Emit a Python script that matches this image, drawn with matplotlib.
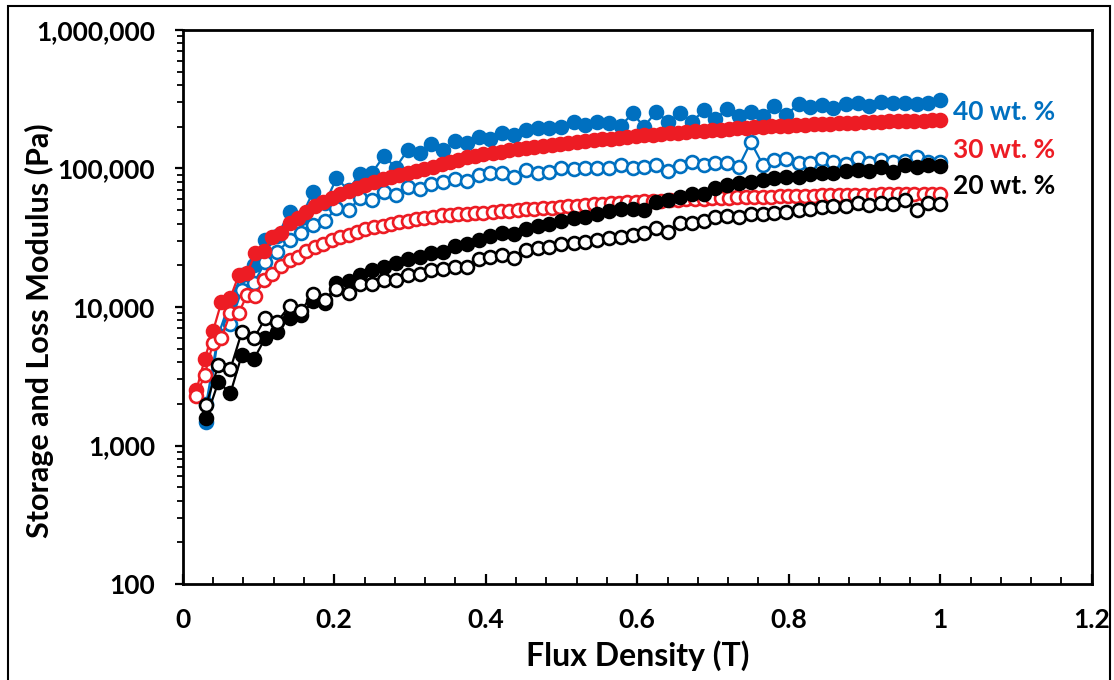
import matplotlib
matplotlib.use("Agg")
import matplotlib.pyplot as plt
from matplotlib.patches import Rectangle
from matplotlib.ticker import FixedLocator, FuncFormatter, LogLocator, NullFormatter

# flux density grid for the 20 and 40 wt.% samples (T)
field_a = [0.031, 0.047, 0.063, 0.078, 0.094, 0.109, 0.125, 0.141, 0.156, 0.172,
           0.188, 0.203, 0.219, 0.234, 0.25, 0.266, 0.281, 0.297, 0.313, 0.328,
           0.344, 0.359, 0.375, 0.391, 0.406, 0.422, 0.438, 0.453, 0.469, 0.484,
           0.5, 0.516, 0.531, 0.547, 0.563, 0.578, 0.594, 0.609, 0.625, 0.641,
           0.656, 0.672, 0.688, 0.703, 0.719, 0.734, 0.75, 0.766, 0.781, 0.797,
           0.813, 0.828, 0.844, 0.859, 0.875, 0.891, 0.906, 0.922, 0.938, 0.953,
           0.969, 0.984, 1.0]

# flux density grid for the 30 wt.% sample (T)
field_b = [0.018, 0.029, 0.040, 0.051, 0.063, 0.074, 0.085, 0.096, 0.107, 0.118,
           0.130, 0.141, 0.152, 0.163, 0.174, 0.185, 0.197, 0.208, 0.219, 0.230,
           0.241, 0.252, 0.264, 0.275, 0.286, 0.297, 0.308, 0.319, 0.330, 0.342,
           0.353, 0.364, 0.375, 0.386, 0.397, 0.409, 0.420, 0.431, 0.442, 0.453,
           0.464, 0.476, 0.487, 0.498, 0.509, 0.520, 0.531, 0.543, 0.554, 0.565,
           0.576, 0.587, 0.598, 0.609, 0.621, 0.632, 0.643, 0.654, 0.665, 0.676,
           0.688, 0.699, 0.710, 0.721, 0.732, 0.743, 0.754, 0.766, 0.777, 0.788,
           0.799, 0.810, 0.821, 0.833, 0.844, 0.855, 0.866, 0.877, 0.888, 0.899,
           0.911, 0.922, 0.933, 0.944, 0.955, 0.966, 0.978, 0.989, 1.000]

# 40 wt.% storage (filled) and loss (open) modulus, Pa
g1_40 = [1480, 6280, 11200, 17000, 20100, 30500, 32500, 48500, 43900, 67700,
         56300, 84700, 69900, 91900, 93000, 124000, 100800, 135900, 128600, 150200,
         135900, 156800, 152700, 168800, 162000, 179500, 174500, 188000, 195000, 194400,
         200300, 216600, 206000, 214800, 212000, 202600, 249400, 200300, 256900, 216600,
         250300, 216600, 262200, 227600, 268800, 239300, 255700, 237300, 282500, 243300,
         292100, 275600, 284900, 273300, 289700, 294500, 280200, 303500, 295000, 295000,
         292000, 294500, 312200]
g2_40 = [2000, 6300, 7600, 13300, 14900, 21100, 25000, 30500, 34200, 39000,
         41800, 51900, 50100, 60900, 59200, 67900, 64400, 72900, 71300, 77400,
         79400, 84000, 81700, 89700, 92300, 92300, 86500, 97500, 92800, 94900,
         100300, 99100, 100300, 100300, 100300, 105900, 100300, 103000, 105900, 95900,
         104100, 111300, 105900, 108900, 108900, 103000, 155000, 105900, 115100, 117000,
         109500, 110300, 117000, 111300, 107700, 118500, 110300, 115100, 111300, 112600,
         120000, 111300, 111700]

# 30 wt.%
g1_30 = [2500, 4200, 6690, 10800, 11700, 17000, 17600, 24500, 25400, 32000,
         34200, 40400, 43900, 48500, 53600, 57300, 61200, 65500, 68800, 72300,
         76000, 79900, 83300, 86800, 89700, 92800, 95900, 99100, 102500, 107700,
         111300, 115100, 120000, 124000, 127200, 129800, 132400, 135000, 137700, 140500,
         142900, 145300, 147700, 150200, 152700, 155300, 157900, 160000, 162200, 164300,
         166500, 168800, 171000, 173000, 175000, 177100, 179200, 181300, 183400, 185200,
         187100, 189000, 190900, 192800, 194400, 196000, 197600, 199300, 201000, 202600,
         204000, 205300, 206700, 208100, 209500, 210900, 212300, 213400, 214500, 215600,
         216600, 217700, 218800, 219500, 220200, 221000, 221700, 222400, 223200]
g2_30 = [2280, 3230, 5500, 5980, 9050, 9100, 12200, 12100, 15700, 17300,
         19800, 21900, 23000, 25400, 27100, 28500, 30400, 31800, 33100, 34800,
         36300, 37500, 38400, 39700, 40800, 41800, 43200, 43900, 44800, 45800,
         46100, 46700, 47200, 47700, 48100, 48500, 49100, 49600, 50100, 50600,
         51000, 51600, 52100, 52700, 53300, 53900, 54500, 55100, 55700, 56200,
         56600, 57100, 57600, 58000, 58300, 58700, 59200, 59500, 59900, 60200,
         60500, 60800, 61100, 61400, 61800, 62000, 62300, 62500, 62700, 62900,
         63100, 63300, 63500, 63700, 64000, 64100, 64300, 64400, 64600, 64700,
         64800, 64900, 65000, 65100, 65200, 65300, 65400, 65500, 65700]

# 20 wt.%
g1_20 = [1580, 2870, 2390, 4500, 4210, 5980, 6600, 8400, 8750, 11000,
         10700, 14900, 15400, 17000, 18500, 19600, 20700, 22200, 22800, 24500,
         25000, 27400, 28500, 30500, 32300, 34200, 33600, 36600, 38400, 39700,
         41800, 43900, 45000, 47300, 49000, 51000, 51000, 50200, 57600, 59700,
         62600, 65500, 65500, 72300, 76000, 78200, 80300, 82600, 85400, 86800,
         87300, 90500, 92000, 92800, 95100, 97500, 95100, 102900, 94300, 105100,
         101700, 105100, 103400]
g2_20 = [1960, 3810, 3570, 6600, 5940, 8290, 7830, 10200, 9360, 12400,
         11200, 13500, 12700, 14700, 14700, 15700, 15600, 17000, 17300, 18500,
         18800, 19500, 19500, 22200, 22800, 23800, 22500, 25800, 26500, 27300,
         28300, 29000, 29600, 30500, 31300, 32200, 33100, 34100, 37000, 35000,
         40200, 40300, 41800, 44300, 45400, 44600, 46900, 47300, 48100, 48500,
         50200, 51000, 52300, 53600, 53400, 55900, 54500, 55900, 55000, 59200,
         50200, 56400, 55400]

labels = ["40 wt. %", "30 wt. %", "20 wt. %"]
label_y = [2.56e5, 1.36e5, 7.5e4]

BLUE = "#0070C0"
RED = "#ED1C24"
BLACK = "#000000"

plt.rcParams["font.family"] = ["Lato", "DejaVu Sans"]
plt.rcParams["font.weight"] = "bold"

fig = plt.figure(figsize=(11.14, 6.8), dpi=100)
ax = fig.add_axes([0.164, 0.141, 0.816, 0.815])

ms = 9.3
lw = 1.6
series = [
    (field_a, g1_40, BLUE, True),
    (field_a, g2_40, BLUE, False),
    (field_b, g1_30, RED, True),
    (field_b, g2_30, RED, False),
    (field_a, g1_20, BLACK, True),
    (field_a, g2_20, BLACK, False),
]
for xs, ys, col, filled in series:
    ax.plot(xs, ys, "-o", color=col, lw=lw, ms=ms, mew=1.9,
            mfc=col if filled else "white", mec=col)

ax.set_yscale("log")
ax.set_ylim(100, 1e6)
ax.set_xlim(0, 1.2)

ax.xaxis.set_major_locator(FixedLocator([0, 0.2, 0.4, 0.6, 0.8, 1.0, 1.2]))
ax.xaxis.set_minor_locator(FixedLocator([i * 0.04 for i in range(31)]))
ax.xaxis.set_major_formatter(FuncFormatter(lambda v, p: "%g" % round(v, 2)))
ax.yaxis.set_major_locator(LogLocator(base=10, numticks=10))
ax.yaxis.set_minor_locator(LogLocator(base=10, subs=range(2, 10), numticks=10))
ax.yaxis.set_minor_formatter(NullFormatter())
ax.yaxis.set_major_formatter(FuncFormatter(lambda v, p: "{:,.0f}".format(v)))

ax.tick_params(axis="x", which="major", direction="in", length=7, width=1.6,
               labelsize=19, pad=17)
ax.tick_params(axis="x", which="minor", direction="in", length=5, width=1.3)
ax.tick_params(axis="y", which="major", direction="out", length=6, width=1.6,
               labelsize=19, pad=14)
ax.tick_params(axis="y", which="minor", direction="out", length=4, width=1.3)
for s in ax.spines.values():
    s.set_linewidth(2)

ax.set_xlabel("Flux Density (T)", fontsize=23, fontweight="bold", labelpad=6)
ax.set_ylabel("Storage and Loss Modulus (Pa)", fontsize=22, fontweight="bold")
ax.yaxis.set_label_coords(-0.142, 0.457)

for txt, yv, col in zip(labels, label_y, [BLUE, RED, BLACK]):
    ax.text(1.017, yv, txt, color=col, fontsize=19, fontweight="bold",
            va="center", ha="left")

fig.patches.append(Rectangle((0.007, -0.02), 0.989, 1.011, transform=fig.transFigure,
                             fill=False, edgecolor="black", lw=1.5))

fig.savefig("out.png", dpi=100)
